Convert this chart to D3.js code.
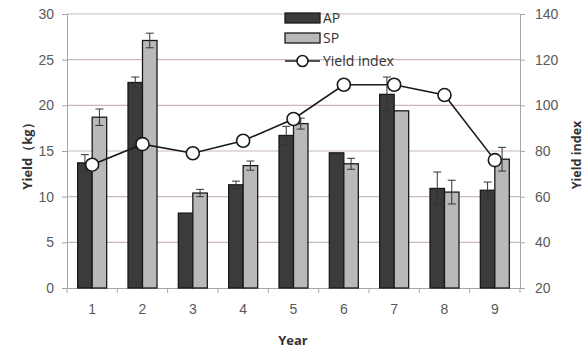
<!DOCTYPE html>
<html>
<head>
<meta charset="utf-8">
<script src="https://cdn.jsdelivr.net/npm/d3@7"></script>
<style>
  html, body { margin: 0; padding: 0; background: #fff; }
  svg { display: block; font-family: "Open Sans", "Liberation Sans", sans-serif; }
</style>
</head>
<body>
<svg id="chart" width="587" height="351"></svg>
<script>
// Yield per year for the two treatments, with error bars, plus the yield index
const years = ["1", "2", "3", "4", "5", "6", "7", "8", "9"];
const apYield = [13.7, 22.5, 8.2, 11.3, 16.7, 14.8, 21.2, 10.9, 10.7];
const apError = [0.9, 0.6, 0, 0.4, 1.0, 0, 1.9, 1.8, 0.9];
const spYield = [18.7, 27.1, 10.4, 13.4, 18.0, 13.6, 19.4, 10.5, 14.1];
const spError = [0.9, 0.8, 0.4, 0.5, 0.6, 0.6, 0, 1.3, 1.3];
const yieldIndex = [74, 83, 79, 84.5, 94, 109, 109, 104.5, 76];
const leftTicks = [0, 5, 10, 15, 20, 25, 30];
const rightTicks = [20, 40, 60, 80, 100, 120, 140];

const svg = d3.select("#chart");
const m = { left: 67, right: 520, top: 14, bottom: 288 };

const x = d3.scaleBand().domain(years).range([m.left, m.right]).padding(0);
const yL = d3.scaleLinear().domain([0, 30]).range([m.bottom, m.top]);
const yR = d3.scaleLinear().domain([20, 140]).range([m.bottom, m.top]);
const barW = 14.5;

// horizontal gridlines
svg.append("g").selectAll("line").data(leftTicks.slice(1)).join("line")
  .attr("x1", m.left).attr("x2", m.right)
  .attr("y1", d => yL(d)).attr("y2", d => yL(d))
  .attr("stroke", "#c9b9b3").attr("stroke-width", 1.2);

// left axis
const axL = svg.append("g").attr("transform", `translate(${m.left},0)`)
  .call(d3.axisLeft(yL).tickValues(leftTicks).tickSize(5).tickPadding(8));
axL.select(".domain").attr("stroke", "#a6a6a6");
axL.selectAll(".tick line").attr("stroke", "#a6a6a6");
axL.selectAll("text").attr("font-size", 14).attr("fill", "#595959");

// right axis
const axR = svg.append("g").attr("transform", `translate(${m.right},0)`)
  .call(d3.axisRight(yR).tickValues(rightTicks).tickSize(5).tickPadding(10));
axR.select(".domain").attr("stroke", "#a6a6a6");
axR.selectAll(".tick line").attr("stroke", "#a6a6a6");
axR.selectAll("text").attr("font-size", 14).attr("fill", "#595959");

// bottom axis with ticks between categories
const axB = svg.append("g").attr("transform", `translate(0,${m.bottom})`)
  .call(d3.axisBottom(x).tickSize(0).tickPadding(16));
axB.select(".domain").attr("stroke", "#a6a6a6");
axB.selectAll("text").attr("font-size", 14).attr("fill", "#595959");
svg.append("g").selectAll("line").data(d3.range(years.length + 1)).join("line")
  .attr("x1", i => m.left + i * x.bandwidth()).attr("x2", i => m.left + i * x.bandwidth())
  .attr("y1", m.bottom).attr("y2", m.bottom + 5)
  .attr("stroke", "#a6a6a6");

// bars
const bars = svg.append("g");
function drawSeries(vals, errs, offset, fill) {
  bars.append("g").selectAll("rect").data(vals).join("rect")
    .attr("x", (d, i) => x(years[i]) + x.bandwidth() / 2 + offset)
    .attr("y", d => yL(d))
    .attr("width", barW)
    .attr("height", d => yL(0) - yL(d))
    .attr("fill", fill).attr("stroke", "#1a1a1a").attr("stroke-width", 1.3);
  const eb = bars.append("g").selectAll("g").data(vals.map((v, i) => ({ v, e: errs[i], i })))
    .join("g").filter(d => d.e > 0);
  eb.each(function (d) {
    const cx = x(years[d.i]) + x.bandwidth() / 2 + offset + barW / 2;
    const g = d3.select(this);
    g.append("line").attr("x1", cx).attr("x2", cx)
      .attr("y1", yL(d.v + d.e)).attr("y2", yL(d.v - d.e))
      .attr("stroke", "#333").attr("stroke-width", 1);
    [d.v + d.e, d.v - d.e].forEach(v => {
      g.append("line").attr("x1", cx - 4).attr("x2", cx + 4)
        .attr("y1", yL(v)).attr("y2", yL(v))
        .attr("stroke", "#333").attr("stroke-width", 1);
    });
  });
}
drawSeries(apYield, apError, -barW, "#3b3b3b");
drawSeries(spYield, spError, 0, "#b9b9b9");

// yield index line
const line = d3.line()
  .x((d, i) => x(years[i]) + x.bandwidth() / 2)
  .y(d => yR(d));
svg.append("path").datum(yieldIndex).attr("d", line)
  .attr("fill", "none").attr("stroke", "#1a1a1a").attr("stroke-width", 1.6);
svg.append("g").selectAll("circle").data(yieldIndex).join("circle")
  .attr("cx", (d, i) => x(years[i]) + x.bandwidth() / 2)
  .attr("cy", d => yR(d))
  .attr("r", 6.5)
  .attr("fill", "#fff").attr("stroke", "#1a1a1a").attr("stroke-width", 1.6);

// legend
const lg = svg.append("g").attr("transform", "translate(285,0)");
lg.append("rect").attr("x", 0).attr("y", 13).attr("width", 35).attr("height", 10)
  .attr("fill", "#3b3b3b").attr("stroke", "#1a1a1a").attr("stroke-width", 1.3);
lg.append("rect").attr("x", 0).attr("y", 33).attr("width", 35).attr("height", 10)
  .attr("fill", "#b9b9b9").attr("stroke", "#1a1a1a").attr("stroke-width", 1.3);
lg.append("line").attr("x1", 0).attr("x2", 35).attr("y1", 61).attr("y2", 61)
  .attr("stroke", "#1a1a1a").attr("stroke-width", 1.6);
lg.append("circle").attr("cx", 17.5).attr("cy", 61).attr("r", 5.5)
  .attr("fill", "#fff").attr("stroke", "#1a1a1a").attr("stroke-width", 1.6);
[["AP", 18], ["SP", 38], ["Yield index", 61]].forEach(([t, yy]) => {
  lg.append("text").attr("x", 38).attr("y", yy).attr("dy", "0.35em")
    .attr("font-size", 14).attr("fill", "#333").text(t);
});

// axis titles
svg.append("text").attr("transform", "translate(27,153) rotate(-90)")
  .attr("text-anchor", "middle").attr("dy", "0.35em")
  .attr("font-size", 13).attr("font-weight", "bold").attr("fill", "#333")
  .text("Yield（kg）");
svg.append("text").attr("transform", "translate(577,155) rotate(-90)")
  .attr("text-anchor", "middle").attr("dy", "0.35em")
  .attr("font-size", 12.5).attr("font-weight", "bold").attr("fill", "#333")
  .text("Yield index");
svg.append("text").attr("x", 293).attr("y", 340).attr("dy", "0.35em")
  .attr("text-anchor", "middle")
  .attr("font-size", 13).attr("font-weight", "bold").attr("fill", "#333")
  .text("Year");
</script>
</body>
</html>
